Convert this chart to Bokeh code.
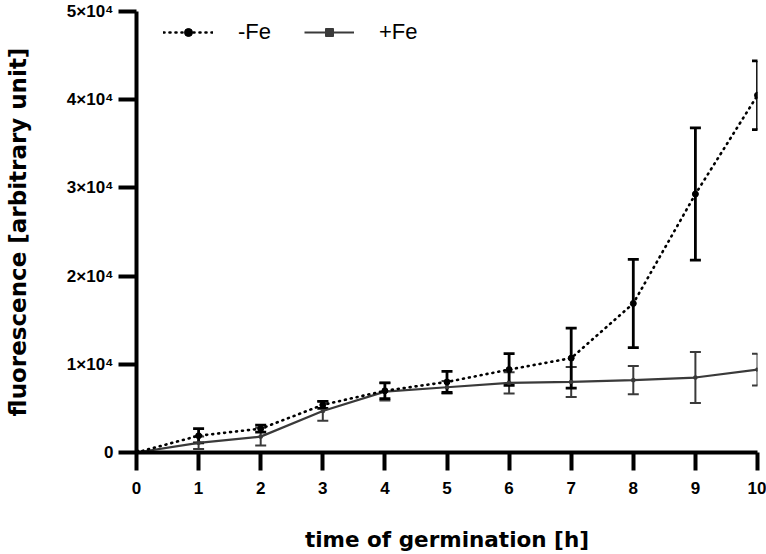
from bokeh.plotting import figure
from bokeh.models import ColumnDataSource, Whisker, FixedTicker, Legend, LegendItem, TeeHead, Range1d
from bokeh.embed import file_html
from bokeh.resources import INLINE

time_h = [0, 1, 2, 3, 4, 5, 6, 7, 8, 9, 10]
minus_fe = [0, 1900, 2700, 5400, 7000, 8000, 9400, 10700, 16900, 29300, 40500]
minus_fe_err = [0, 800, 400, 400, 900, 1200, 1800, 3400, 5000, 7500, 3900]
plus_fe = [0, 1100, 1800, 4700, 6900, 7400, 7900, 8000, 8200, 8500, 9400]
plus_fe_err = [0, 700, 1000, 1100, 1000, 700, 1200, 1700, 1600, 2900, 1800]
y_ticks = [0, 10000, 20000, 30000, 40000, 50000]
y_tick_labels = ["0", "1×10⁴", "2×10⁴", "3×10⁴", "4×10⁴", "5×10⁴"]
x_ticks = list(range(0, 11))

FONT = "Liberation Sans"
TITLE_FONT = "DejaVu Sans"
GRAY = "#3a3a3a"

src_m = ColumnDataSource(dict(x=time_h, y=minus_fe,
                              lo=[v - e for v, e in zip(minus_fe, minus_fe_err)],
                              hi=[v + e for v, e in zip(minus_fe, minus_fe_err)]))
src_p = ColumnDataSource(dict(x=time_h, y=plus_fe,
                              lo=[v - e for v, e in zip(plus_fe, plus_fe_err)],
                              hi=[v + e for v, e in zip(plus_fe, plus_fe_err)]))

p = figure(width=766, height=554, output_backend="svg", toolbar_location=None,
           x_range=Range1d(0, 10), y_range=Range1d(0, 50000),
           min_border_left=136, min_border_right=9, min_border_top=11, min_border_bottom=102)
p.outline_line_color = None
p.grid.visible = False
p.background_fill_color = "white"

# +Fe
wp = Whisker(base="x", lower="lo", upper="hi", source=src_p, line_color=GRAY, line_width=2,
             upper_head=TeeHead(size=11, line_color=GRAY, line_width=2),
             lower_head=TeeHead(size=11, line_color=GRAY, line_width=2))
p.add_layout(wp)
lp = p.line("x", "y", source=src_p, line_color=GRAY, line_width=2.2)
mp = p.scatter("x", "y", source=src_p, marker="square", size=3, color=GRAY)

# -Fe
wm = Whisker(base="x", lower="lo", upper="hi", source=src_m, line_color="black", line_width=2.8,
             upper_head=TeeHead(size=11, line_color="black", line_width=2.8),
             lower_head=TeeHead(size=11, line_color="black", line_width=2.8))
p.add_layout(wm)
lm = p.line("x", "y", source=src_m, line_color="black", line_width=2.6, line_dash="1 5", line_cap="round")
mm = p.scatter("x", "y", source=src_m, marker="circle", size=6, color="black")

for ax in (p.xaxis[0], p.yaxis[0]):
    ax.axis_line_width = 4
    ax.axis_line_color = "black"
    ax.major_tick_line_width = 4
    ax.major_tick_line_color = "black"
    ax.major_tick_out = 18
    ax.major_tick_in = 0
    ax.minor_tick_line_color = None
    ax.major_label_text_font = FONT
    ax.major_label_text_font_style = "bold"
    ax.major_label_text_font_size = "17px"
    ax.major_label_text_color = "black"
    ax.axis_label_text_font = TITLE_FONT
    ax.axis_label_text_font_style = "bold"
    ax.axis_label_text_color = "black"

p.xaxis.axis_label_text_font_size = "21.5px"
p.yaxis.axis_label_text_font_size = "23px"
p.xaxis.ticker = FixedTicker(ticks=x_ticks)
p.yaxis.ticker = FixedTicker(ticks=y_ticks)
p.yaxis.major_label_overrides = {t: l for t, l in zip(y_ticks, y_tick_labels)}
p.xaxis.axis_label = "time of germination [h]"
p.yaxis.axis_label = "fluorescence [arbitrary unit]"
p.xaxis.major_label_standoff = 11
p.yaxis.major_label_standoff = 5
p.xaxis.axis_label_standoff = 30
p.yaxis.axis_label_standoff = 33

legend = Legend(items=[LegendItem(label="-Fe", renderers=[lm, mm]),
                       LegendItem(label="+Fe", renderers=[lp, mp])],
                orientation="horizontal", location=(27, 407),
                glyph_width=50, glyph_height=20, label_standoff=25, spacing=33,
                padding=5, margin=0, border_line_color=None, background_fill_alpha=0,
                label_text_font=FONT, label_text_font_size="22px", label_text_color="black")
p.add_layout(legend, "center")

open("out.html", "w").write(file_html(p, INLINE))
